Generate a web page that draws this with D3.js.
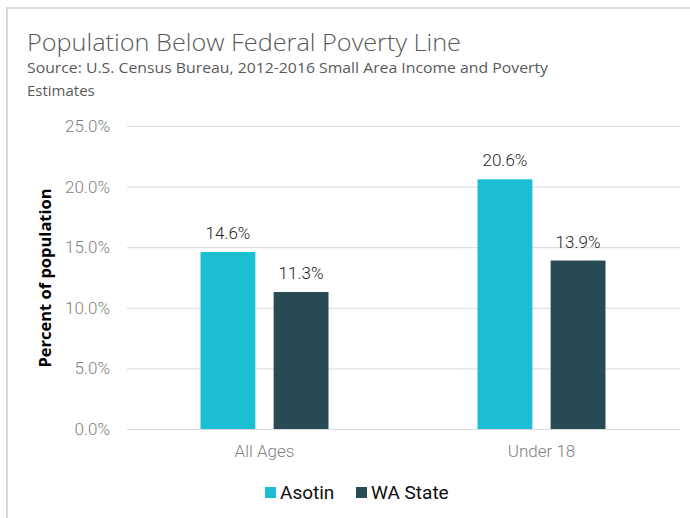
<!DOCTYPE html>
<html>
<head>
<meta charset="utf-8">
<script src="https://cdn.jsdelivr.net/npm/d3@7"></script>
<style>
  body { margin: 0; background: #fff; }
  svg { display: block; }
</style>
</head>
<body>
<div id="chart"></div>
<script>
// data
const categories = ['All Ages', 'Under 18']
const seriesNames = ['Asotin', 'WA State']
const asotin = [14.6, 20.6]
const waState = [11.3, 13.9]
const yTicks = [0, 5, 10, 15, 20, 25]
const colors = ['#1bbed3', '#284a55']

const width = 690
const height = 518

const svg = d3.select('#chart').append('svg')
  .attr('width', width)
  .attr('height', height)

// frame (top + left edge only, as in the source image)
svg.append('path')
  .attr('d', 'M7,518 V8 H690')
  .attr('fill', 'none')
  .attr('stroke', '#d9d9d9')
  .attr('stroke-width', 2)

svg.append('text')
  .attr('x', 27).attr('y', 51)
  .attr('font-family', 'Open Sans')
  .attr('font-weight', 300)
  .attr('font-size', 24)
  .attr('textLength', 434)
  .attr('lengthAdjust', 'spacingAndGlyphs')
  .attr('fill', '#595959')
  .text('Population Below Federal Poverty Line')

svg.append('text')
  .attr('x', 27).attr('y', 73)
  .attr('font-family', 'Open Sans')
  .attr('font-size', 15)
  .attr('textLength', 521)
  .attr('lengthAdjust', 'spacingAndGlyphs')
  .attr('fill', '#595959')
  .text('Source: U.S. Census Bureau, 2012-2016 Small Area Income and Poverty')

svg.append('text')
  .attr('x', 27).attr('y', 96)
  .attr('font-family', 'Open Sans')
  .attr('font-size', 15)
  .attr('fill', '#595959')
  .text('Estimates')

const y = d3.scaleLinear()
  .domain([0, 25])
  .range([429, 126])

const x0 = d3.scaleBand()
  .domain(categories)
  .range([126, 680])
  .paddingInner(0.538)
  .paddingOuter(0.269)

const x1 = d3.scaleBand()
  .domain(seriesNames)
  .range([0, x0.bandwidth()])
  .paddingInner(0.25)

// gridlines + tick labels
const yAxis = d3.axisLeft(y)
  .tickValues(yTicks)
  .tickSize(-(680 - 127))
  .tickPadding(17)
  .tickFormat(d => d.toFixed(1) + '%')

svg.append('g')
  .attr('transform', 'translate(127,0)')
  .call(yAxis)
  .call(g => g.select('.domain').remove())
  .call(g => g.selectAll('line').attr('stroke', '#d9d9d9'))
  .call(g => g.selectAll('text')
    .attr('font-family', 'Roboto')
    .attr('font-weight', 300)
    .attr('font-size', 17)
    .attr('fill', '#7f7f7f'))

const rows = categories.map((c, i) => ({cat: c, values: [asotin[i], waState[i]]}))

const groups = svg.append('g').selectAll('g')
  .data(rows)
  .join('g')
  .attr('transform', d => 'translate(' + x0(d.cat) + ',0)')

groups.selectAll('rect')
  .data(d => d.values.map((v, j) => ({name: seriesNames[j], value: v, j})))
  .join('rect')
  .attr('x', d => x1(d.name))
  .attr('y', d => y(d.value))
  .attr('width', x1.bandwidth())
  .attr('height', d => y(0) - y(d.value))
  .attr('fill', d => colors[d.j])

groups.selectAll('text.val')
  .data(d => d.values.map((v, j) => ({name: seriesNames[j], value: v})))
  .join('text')
  .attr('class', 'val')
  .attr('x', d => x1(d.name) + x1.bandwidth() / 2)
  .attr('y', d => y(d.value) - 13)
  .attr('text-anchor', 'middle')
  .attr('font-family', 'Roboto')
  .attr('font-weight', 300)
  .attr('font-size', 17)
  .attr('fill', '#262626')
  .text(d => d.value.toFixed(1) + '%')

// category axis
const xAxis = d3.axisBottom(x0).tickSize(0).tickPadding(16)
svg.append('g')
  .attr('transform', 'translate(0,' + y(0) + ')')
  .call(xAxis)
  .call(g => g.select('.domain').remove())
  .call(g => g.selectAll('text')
    .attr('font-family', 'Roboto')
    .attr('font-weight', 300)
    .attr('font-size', 17)
    .attr('fill', '#7f7f7f'))

// y axis title
svg.append('text')
  .attr('transform', 'translate(51,278) rotate(-90)')
  .attr('text-anchor', 'middle')
  .attr('font-family', 'Open Sans')
  .attr('font-weight', 700)
  .attr('font-size', 16.5)
  .attr('fill', '#000')
  .text('Percent of population')

// legend
const legendX = [265, 356]
const legend = svg.append('g').selectAll('g')
  .data(seriesNames)
  .join('g')
  .attr('transform', (d, i) => 'translate(' + legendX[i] + ',487)')

legend.append('rect')
  .attr('width', 11).attr('height', 11)
  .attr('fill', (d, i) => colors[i])

legend.append('text')
  .attr('x', 15).attr('y', 11.5)
  .attr('font-family', 'Roboto')
  .attr('font-size', 19)
  .attr('fill', '#0d0d0d')
  .text(d => d)
</script>
</body>
</html>
